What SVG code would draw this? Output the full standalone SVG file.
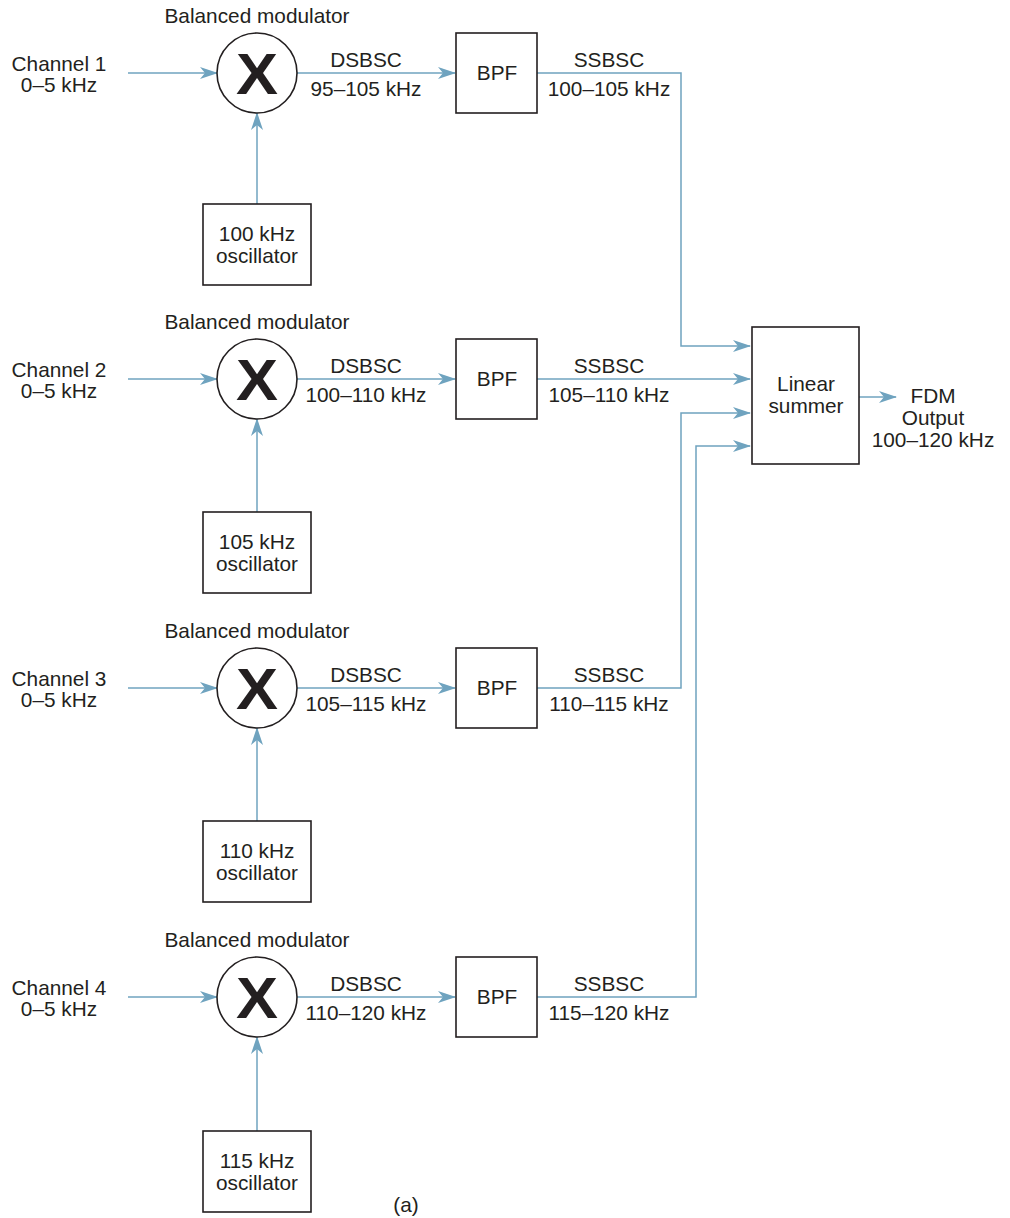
<svg xmlns="http://www.w3.org/2000/svg" width="1010" height="1218" viewBox="0 0 1010 1218">
<defs>
<marker id="arr" viewBox="0 0 18 12" refX="17" refY="6" markerWidth="18" markerHeight="12" markerUnits="userSpaceOnUse" orient="auto">
<path d="M0,0 L18,6 L0,12 L5,6 z" fill="#6fa3bf"/>
</marker>
</defs>
<style>
text{font-family:"Liberation Sans",Arial,sans-serif;font-size:20.8px;fill:#231f20;text-anchor:middle}
.x{font-size:57px;font-weight:bold}
.box{fill:#fff;stroke:#231f20;stroke-width:1.6}
.c{fill:none;stroke:#6fa3bf;stroke-width:1.5}
.a{marker-end:url(#arr)}
</style>
<rect width="1010" height="1218" fill="#fff"/>
<g id="connectors">
<path class="c a" d="M128,73 H217"/>
<path class="c a" d="M257,204 V113"/>
<path class="c a" d="M297,73 H455"/>
<path class="c a" d="M537,73 H681 V346 H750"/>
<path class="c a" d="M128,379 H217"/>
<path class="c a" d="M257,512 V419"/>
<path class="c a" d="M297,379 H455"/>
<path class="c a" d="M537,379 H750"/>
<path class="c a" d="M128,688 H217"/>
<path class="c a" d="M257,821 V728"/>
<path class="c a" d="M297,688 H455"/>
<path class="c a" d="M537,688 H681 V413 H750"/>
<path class="c a" d="M128,997 H217"/>
<path class="c a" d="M257,1131 V1037"/>
<path class="c a" d="M297,997 H455"/>
<path class="c a" d="M537,997 H696 V446 H750"/>
<path class="c a" d="M859,397 H896"/>
</g>
<g id="ch1"><text x="59" y="71">Channel 1</text><text x="59" y="92">0–5 kHz</text></g>
<g id="mod1"><text x="257" y="23">Balanced modulator</text><circle class="box" cx="257" cy="73" r="40"/><text class="x" x="257" y="94" textLength="42" lengthAdjust="spacingAndGlyphs">X</text></g>
<g id="osc1"><rect class="box" x="203" y="204" width="108" height="81"/><text x="257" y="241">100 kHz</text><text x="257" y="263">oscillator</text></g>
<g id="ds1"><text x="366" y="67">DSBSC</text><text x="366" y="96">95–105 kHz</text></g>
<g id="bpf1"><rect class="box" x="456" y="33" width="81" height="80"/><text x="497" y="80">BPF</text></g>
<g id="ss1"><text x="609" y="67">SSBSC</text><text x="609" y="96">100–105 kHz</text></g>

<g id="ch2"><text x="59" y="377">Channel 2</text><text x="59" y="398">0–5 kHz</text></g>
<g id="mod2"><text x="257" y="329">Balanced modulator</text><circle class="box" cx="257" cy="379" r="40"/><text class="x" x="257" y="400" textLength="42" lengthAdjust="spacingAndGlyphs">X</text></g>
<g id="osc2"><rect class="box" x="203" y="512" width="108" height="81"/><text x="257" y="549">105 kHz</text><text x="257" y="571">oscillator</text></g>
<g id="ds2"><text x="366" y="373">DSBSC</text><text x="366" y="402">100–110 kHz</text></g>
<g id="bpf2"><rect class="box" x="456" y="339" width="81" height="80"/><text x="497" y="386">BPF</text></g>
<g id="ss2"><text x="609" y="373">SSBSC</text><text x="609" y="402">105–110 kHz</text></g>

<g id="ch3"><text x="59" y="686">Channel 3</text><text x="59" y="707">0–5 kHz</text></g>
<g id="mod3"><text x="257" y="638">Balanced modulator</text><circle class="box" cx="257" cy="688" r="40"/><text class="x" x="257" y="709" textLength="42" lengthAdjust="spacingAndGlyphs">X</text></g>
<g id="osc3"><rect class="box" x="203" y="821" width="108" height="81"/><text x="257" y="858">110 kHz</text><text x="257" y="880">oscillator</text></g>
<g id="ds3"><text x="366" y="682">DSBSC</text><text x="366" y="711">105–115 kHz</text></g>
<g id="bpf3"><rect class="box" x="456" y="648" width="81" height="80"/><text x="497" y="695">BPF</text></g>
<g id="ss3"><text x="609" y="682">SSBSC</text><text x="609" y="711">110–115 kHz</text></g>

<g id="ch4"><text x="59" y="995">Channel 4</text><text x="59" y="1016">0–5 kHz</text></g>
<g id="mod4"><text x="257" y="947">Balanced modulator</text><circle class="box" cx="257" cy="997" r="40"/><text class="x" x="257" y="1018" textLength="42" lengthAdjust="spacingAndGlyphs">X</text></g>
<g id="osc4"><rect class="box" x="203" y="1131" width="108" height="81"/><text x="257" y="1168">115 kHz</text><text x="257" y="1190">oscillator</text></g>
<g id="ds4"><text x="366" y="991">DSBSC</text><text x="366" y="1020">110–120 kHz</text></g>
<g id="bpf4"><rect class="box" x="456" y="957" width="81" height="80"/><text x="497" y="1004">BPF</text></g>
<g id="ss4"><text x="609" y="991">SSBSC</text><text x="609" y="1020">115–120 kHz</text></g>

<g id="summer"><rect class="box" x="752" y="327" width="107" height="137"/><text x="806" y="391">Linear</text><text x="806" y="413">summer</text></g>
<g id="output"><text x="933" y="403">FDM</text><text x="933" y="425">Output</text><text x="933" y="447">100–120 kHz</text></g>
<text x="406" y="1212">(a)</text>
</svg>
